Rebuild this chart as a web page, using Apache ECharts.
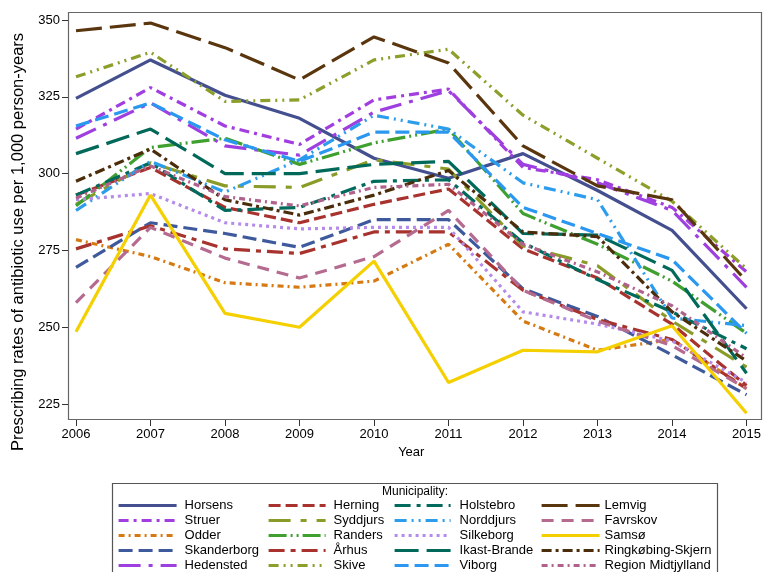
<!DOCTYPE html>
<html>
<head>
<meta charset="utf-8">
<script src="https://cdn.jsdelivr.net/npm/echarts@6/dist/echarts.min.js"></script>
<style>html,body{margin:0;padding:0;background:#fff;}#c{width:764px;height:572px;}</style>
</head>
<body>
<div id="c"></div>
<script>
const years = [2006, 2007, 2008, 2009, 2010, 2011, 2012, 2013, 2014, 2015];
const yTicks = [225, 250, 275, 300, 325, 350];

const names = ["Horsens","Struer","Odder","Skanderborg","Hedensted",
  "Herning","Syddjurs","Randers","Århus","Skive",
  "Holstebro","Norddjurs","Silkeborg","Ikast-Brande","Viborg",
  "Lemvig","Favrskov","Samsø","Ringkøbing-Skjern","Region Midtjylland"];

const horsens     = [324.5, 337, 325.5, 318, 305, 298.5, 306.5, 294.5, 281.5, 256];
const struer      = [314.5, 328, 315.5, 309.5, 324, 327.5, 302, 298, 289, 268];
const odder       = [278.5, 273, 264.5, 263, 265, 277, 252, 242.5, 246, 230];
const skanderborg = [269.5, 284, 280.5, 276, 285, 285, 262.5, 253.5, 241, 228];
const hedensted   = [311.5, 323, 309, 306, 320, 327, 303, 297, 288, 263];
const herning     = [293, 302, 289, 284, 290, 295, 275.5, 266, 251, 231];
const syddjurs    = [290, 303.5, 296, 295.5, 304.5, 301.5, 276.5, 270, 252, 237];
const randers     = [289.5, 308.5, 311.5, 303, 310, 314.5, 287, 277, 265, 248];
const aarhus      = [275.5, 283, 275.5, 274, 281, 281, 262, 252.5, 246, 230];
const skive       = [331.5, 339.5, 323.5, 324, 337, 340.5, 319, 305, 291, 269];
const holstebro   = [293, 303.5, 288, 289, 297.5, 298, 277.5, 265.5, 255, 243];
const norddjurs   = [288, 304, 294, 304.5, 319, 314.5, 297, 291.5, 253, 250.5];
const silkeborg   = [291.5, 293.5, 284, 282, 282.5, 282.5, 255, 251, 245.5, 232];
const ikastBrande = [306.5, 314.5, 300, 300, 303, 304, 280.5, 280, 268.5, 235];
const viborg      = [315.5, 323, 311, 304, 313.5, 313.5, 289, 280.5, 272, 248];
const lemvig      = [346.5, 349, 341, 330.5, 344.5, 336, 309, 296, 291.5, 265];
const favrskov    = [258, 282.5, 272.5, 266, 273, 288, 262, 252, 244, 230];
const samso       = [248.5, 293, 254.5, 250, 271.5, 232, 242.5, 242, 250.5, 222];
const ringkobing  = [297.5, 308, 291.5, 286.5, 293, 301, 281, 279.5, 255, 239];
const region      = [292, 302.5, 292.5, 289.5, 295.5, 296.5, 277, 268, 257, 240];

const values = [horsens, struer, odder, skanderborg, hedensted,
  herning, syddjurs, randers, aarhus, skive,
  holstebro, norddjurs, silkeborg, ikastBrande, viborg,
  lemvig, favrskov, samso, ringkobing, region];

const colors = ["#434F8E","#A23EE0","#D57A12","#3E5A9C","#9E3FE0",
  "#A8332E","#8A9B27","#3FA02F","#A8332E","#8C9F2A",
  "#006B5C","#2C9CEC","#B48BEA","#00695A","#2A97F0",
  "#5A360F","#B56B90","#F5D000","#4C2D0B","#B0618C"];

const dashes = ["solid",[10,5,3,5],[6,4,2,4],[14,6],[22,8,4,8],
  [12,5],[22,10,6,10],[18,4,2,4,2,4],[16,6,5,6],[10,5,2,5,2,5],
  [16,6,4,6],[12,5,2,5,2,5],[3,4],[24,8],[14,6],
  [26,8],[12,8],"solid",[10,4,3,4],[6,4,2,4]];

const series = names.map((n, i) => ({
  name: n,
  type: 'line',
  symbol: 'none',
  clip: false,
  data: years.map((y, j) => [y, values[i][j]]),
  lineStyle: { width: 3.2, type: dashes[i], color: colors[i], cap: 'butt' },
  itemStyle: { color: colors[i] },
  z: 2
}));

const colLeft = [117, 267, 393, 540];
const colW = [58, 57, 56, 58];
const colText = [183, 332, 458, 603];
const rowCenter = [506, 521, 536, 551, 566];
const legends = names.map((n, i) => {
  const col = Math.floor(i / 5), row = i % 5;
  return {
    orient: 'horizontal',
    left: colLeft[col],
    top: rowCenter[row] - 7,
    itemWidth: colW[col],
    itemHeight: 14,
    padding: 0,
    selectedMode: false,
    data: [n],
    itemStyle: { opacity: 0 },
    lineStyle: { width: 3.2 },
    textStyle: { fontFamily: 'Liberation Sans', fontSize: 13, color: '#000',
      padding: [0, 0, 0, colText[col] - colLeft[col] - colW[col] - 5] }
  };
});

const chart = echarts.init(document.getElementById('c'), null, { renderer: 'canvas' });
chart.setOption({
  animation: false,
  backgroundColor: '#fff',
  grid: { left: 76, right: 13, top: 20, bottom: 168, containLabel: false },
  xAxis: {
    type: 'value', min: 2006, max: 2015, interval: 1, offset: 16,
    name: 'Year', nameLocation: 'middle', nameGap: 26,
    nameTextStyle: { fontFamily: 'Liberation Sans', fontSize: 13, color: '#000' },
    axisLine: { show: false },
    axisTick: { show: true, length: 6, lineStyle: { color: '#333' } },
    axisLabel: { fontFamily: 'Liberation Sans', fontSize: 13, color: '#000', margin: 8, formatter: v => String(v) },
    splitLine: { show: false }
  },
  yAxis: {
    type: 'value', min: yTicks[0], max: yTicks[yTicks.length - 1], interval: 25, offset: 8,
    axisLine: { show: false },
    axisTick: { show: true, length: 6, lineStyle: { color: '#333' } },
    axisLabel: { fontFamily: 'Liberation Sans', fontSize: 13, color: '#000', margin: 8 },
    splitLine: { show: false }
  },
  legend: legends,
  series: series,
  graphic: [
    { type: 'rect', shape: { x: 68.5, y: 12.5, width: 693, height: 407 }, style: { fill: 'none', stroke: '#666', lineWidth: 1.2 }, z: 10, silent: true },
    { type: 'rect', shape: { x: 112.5, y: 483.5, width: 605, height: 100 }, style: { fill: 'none', stroke: '#555', lineWidth: 1.2 }, z: 10, silent: true },
    { type: 'text', x: 415, y: 492, style: { text: 'Municipality:', fontFamily: 'Liberation Sans', fontSize: 12, fill: '#000', textAlign: 'center', textVerticalAlign: 'middle' }, z: 10 },
    { type: 'text', x: 18, y: 242, rotation: Math.PI / 2, style: { text: 'Prescribing rates of antibiotic use per 1,000 person-years', fontFamily: 'Liberation Sans', fontSize: 16.5, fill: '#000', textAlign: 'center', textVerticalAlign: 'middle' }, z: 10 }
  ]
});
</script>
</body>
</html>
